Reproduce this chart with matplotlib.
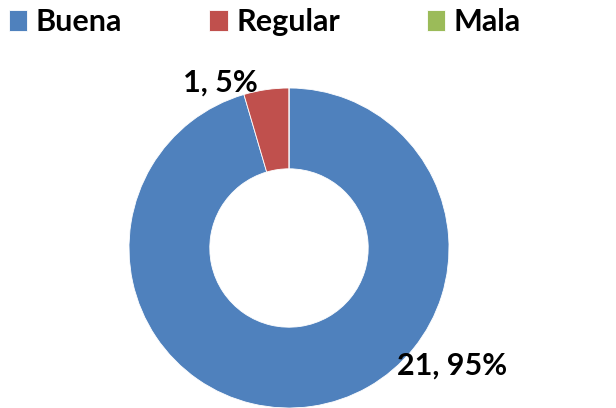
import matplotlib
matplotlib.use("Agg")
import matplotlib.pyplot as plt

# datos de la encuesta
categorias = ["Buena", "Regular", "Mala"]
valores = [21, 1, 0]
porcentajes = [95, 5, 0]
colores = ["#4F81BD", "#C0504D", "#9BBB59"]

plt.rcParams['font.family'] = ['Lato', 'DejaVu Sans']
plt.rcParams['font.weight'] = 'bold'

W, H = 616, 408
fig = plt.figure(figsize=(W / 100, H / 100), dpi=100)

# centro del anillo (289, 248) px, radio 160 px
cx, cy, r = 289, 248, 160
ax = fig.add_axes([(cx - r) / W, (H - cy - r) / H, 2 * r / W, 2 * r / H])

wedges, _ = ax.pie(valores, colors=colores, startangle=90, counterclock=False,
                   radius=1.0, wedgeprops=dict(width=0.505, edgecolor='white', linewidth=0.6))
ax.set_xlim(-1, 1)
ax.set_ylim(-1, 1)
ax.set_aspect('equal')
ax.axis('off')

# etiquetas de datos
pos_etiquetas = {0: (1.02, -0.735), 1: (-0.43, 1.035)}
for i, (x, y) in pos_etiquetas.items():
    ax.text(x, y, f"{valores[i]}, {porcentajes[i]}%", ha='center', va='center',
            fontsize=22, fontweight='bold', color='black', clip_on=False)

leg = fig.legend(wedges, categorias, loc='upper left', bbox_to_anchor=(9 / W, 1 - 8 / H),
                 ncol=3, frameon=False, fontsize=22, handlelength=0.6, handleheight=0.7,
                 handletextpad=0.28, columnspacing=2.85, borderpad=0, borderaxespad=0)
for t in leg.get_texts():
    t.set_fontweight('bold')

fig.savefig("out.png", dpi=100)
